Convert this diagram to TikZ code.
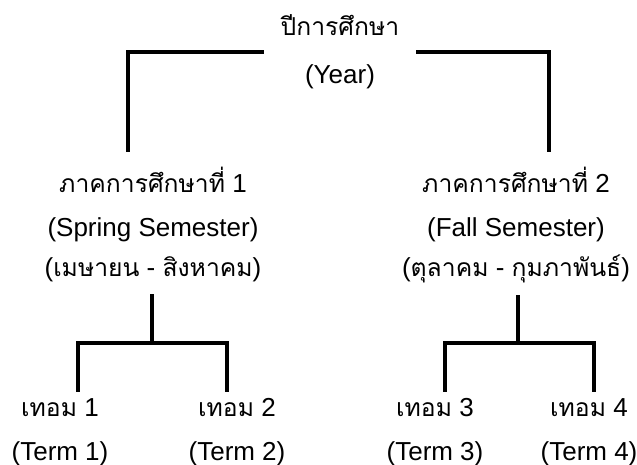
\documentclass[tikz,border=0pt]{standalone}
\usepackage{fontspec}
\setmainfont{Liberation Sans}
\newfontfamily\thaifont[Script=Thai,Scale=0.95]{Loma}
\usetikzlibrary{positioning}

\begin{document}
\begin{tikzpicture}[x=1pt,y=-1pt,
    txt/.style={align=center,inner sep=0pt,font=\fontsize{26}{44}\selectfont},
    bracket/.style={line width=3.5pt,line cap=rect}]
    \useasboundingbox (0,0) rectangle (637,465);
    \node[txt,font=\fontsize{26}{48}\selectfont,minimum width=155pt] (Y) at (340,52) {{\thaifont ปีการศึกษา}\\(Year)};
    \node[txt,anchor=north] (S1) at (153,167) {{\thaifont ภาคการศึกษาที่} 1\\(Spring Semester)\\[-4pt]({\thaifont เมษายน} - {\thaifont สิงหาคม})};
    \node[txt,anchor=north] (S2) at (516,167) {{\thaifont ภาคการศึกษาที่} 2\\(Fall Semester)\\[-4pt]({\thaifont ตุลาคม} - {\thaifont กุมภาพันธ์})};
    \node[txt,anchor=north] (T1) at (60,398) {{\thaifont เทอม} 1\\(Term 1)};
    \node[txt,anchor=north] (T2) at (237,398) {{\thaifont เทอม} 2\\(Term 2)};
    \node[txt,anchor=north] (T3) at (435,398) {{\thaifont เทอม} 3\\(Term 3)};
    \node[txt,anchor=north] (T4) at (589,398) {{\thaifont เทอม} 4\\(Term 4)};
    \coordinate (J1) at (152,343);
    \coordinate (J2) at (518,343);
    \draw[bracket] (Y.west) -| ([xshift=-25pt,yshift=17pt]S1.north);
    \draw[bracket] (Y.east) -| ([xshift=33pt,yshift=17pt]S2.north);
    \draw[bracket] (J1 |- S1.south) ++(0,14) -- (J1);
    \draw[bracket] (J2 |- S2.south) ++(0,14) -- (J2);
    \draw[bracket] ([xshift=18pt,yshift=8pt]T1.north) |- (J1) -| ([xshift=-10pt,yshift=8pt]T2.north);
    \draw[bracket] ([xshift=10pt,yshift=8pt]T3.north) |- (J2) -| ([xshift=5pt,yshift=8pt]T4.north);
\end{tikzpicture}
\end{document}
